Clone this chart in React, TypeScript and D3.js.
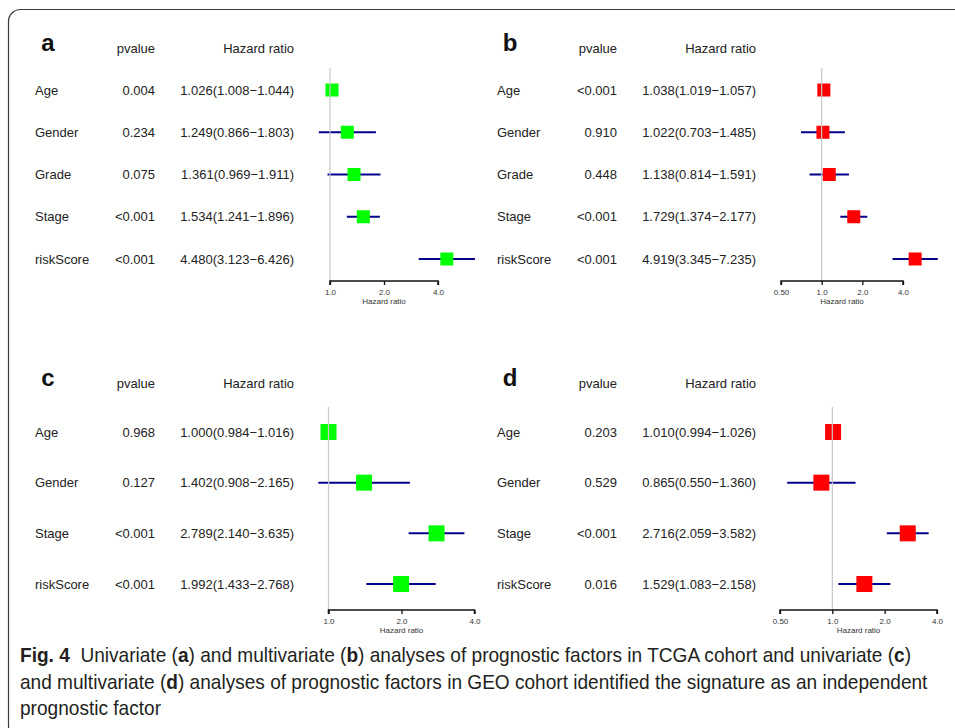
import * as d3 from 'd3';
import React, { useEffect, useRef } from 'react';

// panel a: univariate TCGA
const factorsA = ['Age', 'Gender', 'Grade', 'Stage', 'riskScore'];
const pvalA = ['0.004', '0.234', '0.075', '<0.001', '<0.001'];
const hrA = [1.026, 1.249, 1.361, 1.534, 4.48];
const lowA = [1.008, 0.866, 0.969, 1.241, 3.123];
const highA = [1.044, 1.803, 1.911, 1.896, 6.426];

// panel b: multivariate TCGA
const factorsB = ['Age', 'Gender', 'Grade', 'Stage', 'riskScore'];
const pvalB = ['<0.001', '0.910', '0.448', '<0.001', '<0.001'];
const hrB = [1.038, 1.022, 1.138, 1.729, 4.919];
const lowB = [1.019, 0.703, 0.814, 1.374, 3.345];
const highB = [1.057, 1.485, 1.591, 2.177, 7.235];

// panel c: univariate GEO
const factorsC = ['Age', 'Gender', 'Stage', 'riskScore'];
const pvalC = ['0.968', '0.127', '<0.001', '<0.001'];
const hrC = [1.0, 1.402, 2.789, 1.992];
const lowC = [0.984, 0.908, 2.14, 1.433];
const highC = [1.016, 2.165, 3.635, 2.768];

// panel d: multivariate GEO
const factorsD = ['Age', 'Gender', 'Stage', 'riskScore'];
const pvalD = ['0.203', '0.529', '<0.001', '0.016'];
const hrD = [1.01, 0.865, 2.716, 1.529];
const lowD = [0.994, 0.55, 2.059, 1.083];
const highD = [1.026, 1.36, 3.582, 2.158];

const ticksFrom1 = [1, 2, 4];
const ticksFromHalf = [0.5, 1, 2, 4];

const fmtTick = (v) => (v < 1 ? v.toFixed(2) : v.toFixed(1));

const panels = [
  { letter: 'a', factors: factorsA, pval: pvalA, hr: hrA, low: lowA, high: highA, color: '#00ff00',
    ticks: ticksFrom1, x0: 330, x1: 438, x: 0, rowTop: 90, rowBottom: 259, top: 68, axisY: 281, headY: 48, size: 13 },
  { letter: 'b', factors: factorsB, pval: pvalB, hr: hrB, low: lowB, high: highB, color: '#ff0000',
    ticks: ticksFromHalf, x0: 781, x1: 903, x: 462, rowTop: 90, rowBottom: 259, top: 68, axisY: 281, headY: 48, size: 13 },
  { letter: 'c', factors: factorsC, pval: pvalC, hr: hrC, low: lowC, high: highC, color: '#00ff00',
    ticks: ticksFrom1, x0: 328.5, x1: 474.5, x: 0, rowTop: 432, rowBottom: 584, top: 407, axisY: 610, headY: 383, size: 16 },
  { letter: 'd', factors: factorsD, pval: pvalD, hr: hrD, low: lowD, high: highD, color: '#ff0000',
    ticks: ticksFromHalf, x0: 780, x1: 937, x: 462, rowTop: 432, rowBottom: 584, top: 407, axisY: 610, headY: 383, size: 16 },
];

const font = 'Liberation Sans, Arial, Helvetica, sans-serif';

// caption text, [text, bold] runs per line
const captionLines = [
  [['Fig. 4', true], ['  Univariate (', false], ['a', true], [') and multivariate (', false], ['b', true],
    [') analyses of prognostic factors in TCGA cohort and univariate (', false], ['c', true], [')', false]],
  [['and multivariate (', false], ['d', true], [') analyses of prognostic factors in GEO cohort identified the signature as an independent', false]],
  [['prognostic factor', false]],
];

export default function App() {
  const ref = useRef(null);

  useEffect(() => {
    const svg = d3.select(ref.current);
    svg.selectAll('*').remove();

    // frame
    svg.append('rect')
      .attr('x', 8.5).attr('y', 9.5)
      .attr('width', 970).attr('height', 728)
      .attr('rx', 12)
      .attr('fill', 'none')
      .attr('stroke', '#3a3a3a')
      .attr('stroke-width', 1.2);

    panels.forEach((p) => {
      const g = svg.append('g').attr('font-family', font);
      const xs = d3.scaleLog().base(2).domain([p.ticks[0], 4]).range([p.x0, p.x1]);
      const ys = d3.scalePoint().domain(p.factors).range([p.rowTop, p.rowBottom]);

      // panel letter + headers
      g.append('text')
        .attr('x', p.x + 48).attr('y', p.headY - 6)
        .attr('text-anchor', 'middle').attr('dominant-baseline', 'central')
        .attr('font-size', 24).attr('font-weight', 'bold').attr('fill', '#111')
        .text(p.letter);
      g.append('text')
        .attr('x', p.x + 155).attr('y', p.headY)
        .attr('text-anchor', 'end').attr('dominant-baseline', 'central')
        .attr('font-size', 13).attr('fill', '#222')
        .text('pvalue');
      g.append('text')
        .attr('x', p.x + 294).attr('y', p.headY)
        .attr('text-anchor', 'end').attr('dominant-baseline', 'central')
        .attr('font-size', 13).attr('fill', '#222')
        .text('Hazard ratio');

      // table rows
      const rows = g.selectAll('g.row')
        .data(p.factors)
        .enter().append('g')
        .attr('transform', (d) => 'translate(0,' + ys(d) + ')');
      rows.append('text')
        .attr('x', p.x + 35).attr('dominant-baseline', 'central')
        .attr('font-size', 13).attr('fill', '#222')
        .text((d) => d);
      rows.append('text')
        .attr('x', p.x + 155).attr('text-anchor', 'end').attr('dominant-baseline', 'central')
        .attr('font-size', 13).attr('fill', '#222')
        .text((d, i) => p.pval[i]);
      rows.append('text')
        .attr('x', p.x + 294).attr('text-anchor', 'end').attr('dominant-baseline', 'central')
        .attr('font-size', 13).attr('fill', '#222')
        .text((d, i) => p.hr[i].toFixed(3) + '(' + p.low[i].toFixed(3) + '\u2212' + p.high[i].toFixed(3) + ')');

      // reference line at HR = 1
      g.append('line')
        .attr('x1', xs(1)).attr('x2', xs(1))
        .attr('y1', p.top).attr('y2', p.axisY)
        .attr('stroke', '#c8c8c8').attr('stroke-width', 1.2);

      // CIs
      rows.append('line')
        .attr('x1', (d, i) => xs(p.low[i]))
        .attr('x2', (d, i) => xs(p.high[i]))
        .attr('stroke', '#00008b').attr('stroke-width', 2);
      rows.append('rect')
        .attr('x', (d, i) => xs(p.hr[i]) - p.size / 2)
        .attr('y', -p.size / 2)
        .attr('width', p.size).attr('height', p.size)
        .attr('fill', p.color);

      // axis
      const axis = d3.axisBottom(xs)
        .tickValues(p.ticks)
        .tickSize(4)
        .tickPadding(4)
        .tickFormat(fmtTick);
      const ax = g.append('g')
        .attr('transform', 'translate(0,' + p.axisY + ')')
        .call(axis);
      ax.select('.domain').attr('stroke', '#111').attr('stroke-width', 1.5)
        .attr('d', 'M' + xs(p.ticks[0]) + ',4V0H' + xs(4) + 'V4');
      ax.selectAll('.tick line').attr('stroke', '#111').attr('stroke-width', 1.3);
      ax.selectAll('.tick text').attr('font-size', 8).attr('fill', '#333').attr('font-family', font);
      g.append('text')
        .attr('x', (xs(p.ticks[0]) + xs(4)) / 2).attr('y', p.axisY + 20)
        .attr('text-anchor', 'middle').attr('dominant-baseline', 'central')
        .attr('font-size', 8).attr('fill', '#333')
        .text('Hazard ratio');
    });

    // caption: regular sans squeezed horizontally to mimic the condensed face
    const baselines = [662.5, 689, 715.5];
    const capLines = captionLines.map((ln, li) => {
      const t = svg.append('text')
        .attr('font-family', font)
        .attr('font-size', 21)
        .attr('fill', '#231f20')
        .attr('xml:space', 'preserve')
        .attr('x', 0).attr('y', baselines[li]);
      ln.forEach(([s, b]) => {
        t.append('tspan').text(s).attr('font-weight', b ? 'bold' : 'normal');
      });
      return t;
    });
    const w0 = capLines[0].node().getComputedTextLength() || 1;
    const k = (912 - 20) / w0;
    capLines.forEach((t) => {
      t.attr('transform', 'translate(20,0) scale(' + k + ',1)');
    });
  }, []);

  return (
    <svg ref={ref} width={955} height={728}
      style={{ position: 'absolute', left: 0, top: 0, background: '#fff' }} />
  );
}
